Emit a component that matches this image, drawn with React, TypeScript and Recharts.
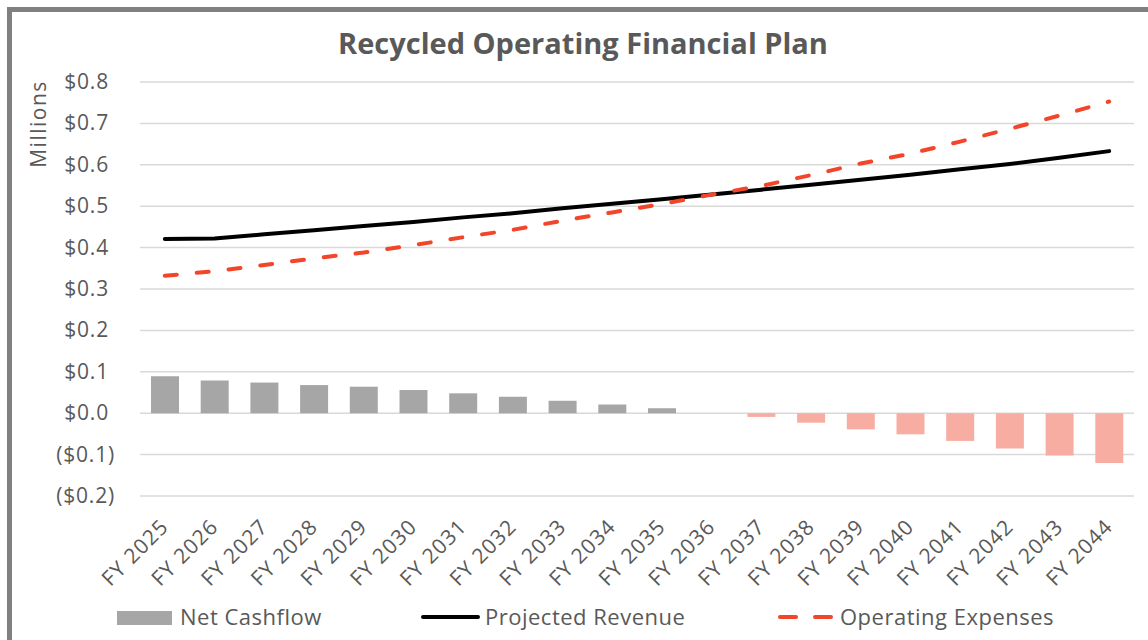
import React from "react";
import { ComposedChart, Bar, Line, XAxis, YAxis, CartesianGrid, Cell } from "recharts";

const years = [
  "FY 2025", "FY 2026", "FY 2027", "FY 2028", "FY 2029", "FY 2030", "FY 2031",
  "FY 2032", "FY 2033", "FY 2034", "FY 2035", "FY 2036", "FY 2037", "FY 2038",
  "FY 2039", "FY 2040", "FY 2041", "FY 2042", "FY 2043", "FY 2044",
];
const netCashflow = [
  0.089, 0.079, 0.074, 0.068, 0.064, 0.056, 0.048, 0.04, 0.03, 0.021, 0.012,
  0.0, -0.009, -0.023, -0.039, -0.051, -0.067, -0.085, -0.102, -0.12,
];
const projectedRevenue = [
  0.421, 0.422, 0.432, 0.442, 0.452, 0.462, 0.473, 0.483, 0.495, 0.506, 0.517,
  0.528, 0.54, 0.552, 0.564, 0.576, 0.589, 0.602, 0.617, 0.633,
];
const operatingExpenses = [
  0.332, 0.343, 0.358, 0.374, 0.388, 0.406, 0.425, 0.443, 0.465, 0.485, 0.505,
  0.528, 0.549, 0.575, 0.603, 0.627, 0.656, 0.687, 0.719, 0.753,
];
const yTicks = [-0.2, -0.1, 0, 0.1, 0.2, 0.3, 0.4, 0.5, 0.6, 0.7, 0.8];

const data = years.map((y, i) => ({
  year: y,
  net: netCashflow[i],
  revenue: projectedRevenue[i],
  expenses: operatingExpenses[i],
}));

const FONT = "'Open Sans', sans-serif";
const TXT = "#595959";
const POS = "#A6A6A6";
const NEG = "#F8ADA3";
const RED = "#F2452A";

const fmt = (v: number) => {
  const a = Math.abs(v).toFixed(1);
  return v < -1e-9 ? `($${a})` : `$${a}`;
};

const YTick = (props: any) => {
  const { x, y, payload } = props;
  const v = payload.value as number;
  const neg = v < -1e-9;
  return (
    <text x={x - (neg ? 25 : 31)} y={y} dy={7} textAnchor="end" fill={TXT}
      fontFamily={FONT} fontSize={21} letterSpacing={0.8}>
      {fmt(v)}
    </text>
  );
};

const XTick = (props: any) => {
  const { x, y, payload } = props;
  const ax = x + 5;
  const ay = y + 32;
  return (
    <text x={ax} y={ay} transform={`rotate(-45, ${ax}, ${ay})`} textAnchor="end"
      fill={TXT} fontFamily={FONT} fontSize={21} letterSpacing={1.1}>
      {payload.value}
    </text>
  );
};

const legendText: React.CSSProperties = {
  position: "absolute", top: 601, fontSize: 22, letterSpacing: 0.5, color: TXT, whiteSpace: "nowrap",
};

export default function App() {
  return (
    <div style={{ position: "absolute", left: 0, top: 0, width: 1148, height: 640, background: "#fff", overflow: "hidden", fontFamily: FONT }}>
      <div style={{ position: "absolute", left: 7, top: 7, width: 1160, height: 660, border: "5px solid #808080", boxSizing: "border-box" }} />
      <div style={{ position: "absolute", left: 0, top: 23, width: 1166, textAlign: "center", fontSize: 29, fontWeight: 700, color: TXT }}>
        Recycled Operating Financial Plan
      </div>
      <div style={{ position: "absolute", left: 38, top: 124, transform: "translate(-50%, -50%) rotate(-90deg)", fontSize: 21, letterSpacing: 1.5, color: TXT, whiteSpace: "nowrap" }}>
        Millions
      </div>
      <div style={{ position: "absolute", left: 0, top: 0 }}>
        <ComposedChart width={1148} height={640} data={data}
          margin={{ top: 82, right: 14, bottom: 0, left: 0 }} barCategoryGap="43%">
          <CartesianGrid vertical={false} stroke="#d9d9d9" strokeWidth={1.5} />
          <XAxis dataKey="year" axisLine={false} tickLine={false} tickSize={0} tickMargin={0}
            interval={0} tick={<XTick />} height={144} />
          <YAxis domain={[-0.2, 0.8]} ticks={yTicks} axisLine={false} tickLine={false}
            tickSize={0} tickMargin={0} width={140} tick={<YTick />} interval={0} />
          <Bar dataKey="net" isAnimationActive={false} barSize={28}>
            {data.map((d, i) => (
              <Cell key={i} fill={d.net < 0 ? NEG : POS} />
            ))}
          </Bar>
          <Line type="linear" dataKey="revenue" stroke="#000" strokeWidth={4} dot={false}
            strokeLinecap="round" isAnimationActive={false} />
          <Line type="linear" dataKey="expenses" stroke={RED} strokeWidth={4} dot={false}
            strokeDasharray="12 20" strokeLinecap="round" isAnimationActive={false} />
        </ComposedChart>
      </div>
      <div style={{ position: "absolute", left: 117, top: 611, width: 55, height: 14, background: POS }} />
      <div style={{ ...legendText, left: 180 }}>Net Cashflow</div>
      <svg style={{ position: "absolute", left: 420, top: 612 }} width={62} height={10}>
        <line x1={3} y1={5} x2={58} y2={5} stroke="#000" strokeWidth={4} strokeLinecap="round" />
      </svg>
      <div style={{ ...legendText, left: 485 }}>Projected Revenue</div>
      <svg style={{ position: "absolute", left: 776, top: 612 }} width={62} height={10}>
        <line x1={4} y1={5} x2={20} y2={5} stroke={RED} strokeWidth={4} strokeLinecap="round" />
        <line x1={39} y1={5} x2={55} y2={5} stroke={RED} strokeWidth={4} strokeLinecap="round" />
      </svg>
      <div style={{ ...legendText, left: 840 }}>Operating Expenses</div>
    </div>
  );
}
